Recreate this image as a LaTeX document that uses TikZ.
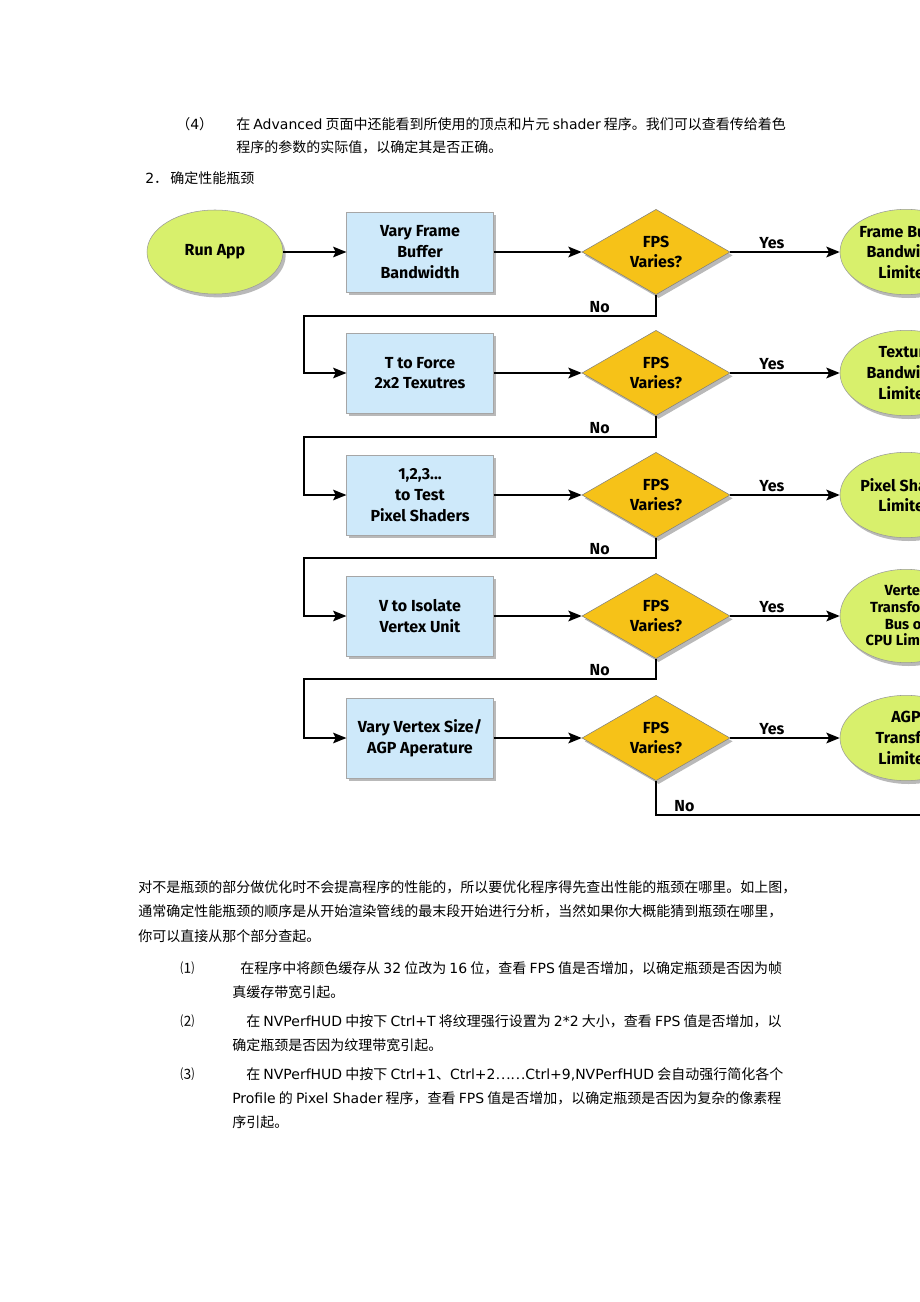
\documentclass[tikz,border=0pt]{standalone}
\usepackage{fontspec}
\setmainfont{DejaVu Sans}
\newfontfamily\cjk{Noto Sans CJK SC}
\newfontfamily\latin{DejaVu Sans}
\newfontfamily\flow{Fira Sans}
\usetikzlibrary{arrows.meta,positioning,shapes.geometric,shadows}
\newcommand{\en}[1]{{\latin #1}}
\definecolor{boxblue}{RGB}{206,233,250}
\definecolor{limegreen}{RGB}{216,240,108}
\definecolor{fpsgold}{RGB}{246,194,24}
\tikzset{
  body/.style={anchor=base west,inner sep=0pt,font=\cjk\fontsize{10.5pt}{12pt}\selectfont},
  chart/.style={font=\flow\bfseries\fontsize{12pt}{15.5pt}\selectfont,align=center},
  shade/.style={drop shadow={shadow xshift=2pt,shadow yshift=-2.5pt,fill=black!55,opacity=0.5}},
  start/.style={chart,ellipse,draw=black!40,fill=limegreen,shade,
    minimum width=102pt,minimum height=63pt,inner sep=0pt},
  stepbox/.style={chart,rectangle,draw=black!35,fill=boxblue,shade,
    minimum width=110pt,minimum height=60pt,inner sep=0pt},
  test/.style={chart,diamond,aspect=1.7,draw=black!50,fill=fpsgold,shade,
    minimum width=111pt,minimum height=64pt,inner sep=0pt},
  result/.style={chart,ellipse,draw=black!40,fill=limegreen,shade,
    minimum width=99pt,minimum height=64pt,inner sep=-20pt},
  line/.style={line width=1.3pt},
  arrow/.style={line,-{Stealth[length=10pt,width=8pt,inset=2pt]}},
  lbl/.style={chart,inner sep=2pt}
}

\begin{document}
\begin{tikzpicture}[x=0.75pt,y=-0.75pt]
\useasboundingbox (0,0) rectangle (920,1302);
\clip (0,0) rectangle (920,1302);

% text above the chart
\node[body] (h4) at (176,130) {（\en{4}）};
\node[body] (t1) at (236,130) {在 \en{Advanced} 页面中还能看到所使用的顶点和片元 \en{shader} 程序。我们可以查看传给着色};
\node[body] (t2) at (236,153) {程序的参数的实际值，以确定其是否正确。};
\node[body] (s2) at (145,183) {\en{2}．\,确定性能瓶颈};

% chart
\node[start] (run) at (215,252) {Run App};
\node[stepbox] (b1) at (420,252) {Vary Frame\\Buffer\\Bandwidth};
\node[stepbox] (b2) at (420,373) {T to Force\\2x2 Texutres};
\node[stepbox] (b3) at (420,495) {1,2,3...\\to Test\\Pixel Shaders};
\node[stepbox] (b4) at (420,616) {V to Isolate\\Vertex Unit};
\node[stepbox] (b5) at (420,738) {Vary Vertex Size/\\AGP Aperature};

\node[test] (d1) at (656,252) {FPS\\Varies?};
\node[test] (d2) at (656,373) {FPS\\Varies?};
\node[test] (d3) at (656,495) {FPS\\Varies?};
\node[test] (d4) at (656,616) {FPS\\Varies?};
\node[test] (d5) at (656,738) {FPS\\Varies?};

\node[result] (r1) at (906,252) {Frame Buffer\\Bandwidth\\Limited};
\node[result] (r2) at (906,373) {Texture\\Bandwidth\\Limited};
\node[result] (r3) at (906,495) {Pixel Shader\\Limited};
\node[result,minimum height=70pt,font=\flow\bfseries\fontsize{11pt}{12.5pt}\selectfont] (r4) at (906,616) {Vertex\\Transform,\\Bus or\\CPU Limited};
\node[result] (r5) at (906,738) {AGP\\Transfer\\Limited};

\coordinate (c1) at (304,316);
\coordinate (c2) at (304,437);
\coordinate (c3) at (304,558);
\coordinate (c4) at (304,679);
\coordinate (c5) at (940,815);

\draw[arrow] (run) -- (b1);
\draw[arrow] (b1) -- (d1);
\draw[arrow] (b2) -- (d2);
\draw[arrow] (b3) -- (d3);
\draw[arrow] (b4) -- (d4);
\draw[arrow] (b5) -- (d5);

\draw[arrow] (d1) -- node[lbl,above,pos=0.38] (y1) {Yes} (r1);
\draw[arrow] (d2) -- node[lbl,above,pos=0.38] (y2) {Yes} (r2);
\draw[arrow] (d3) -- node[lbl,above,pos=0.38] (y3) {Yes} (r3);
\draw[arrow] (d4) -- node[lbl,above,pos=0.38] (y4) {Yes} (r4);
\draw[arrow] (d5) -- node[lbl,above,pos=0.38] (y5) {Yes} (r5);

\draw[arrow] (d1.south) |- node[lbl,above,pos=0.58] (n1) {No} (c1) |- (b2);
\draw[arrow] (d2.south) |- node[lbl,above,pos=0.58] (n2) {No} (c2) |- (b3);
\draw[arrow] (d3.south) |- node[lbl,above,pos=0.58] (n3) {No} (c3) |- (b4);
\draw[arrow] (d4.south) |- node[lbl,above,pos=0.58] (n4) {No} (c4) |- (b5);
\draw[line] (d5.south) |- node[lbl,above,pos=0.55] (n5) {No} (c5);

% text below the chart
\node[body] (p1) at (138,892) {对不是瓶颈的部分做优化时不会提高程序的性能的，所以要优化程序得先查出性能的瓶颈在哪里。如上图，};
\node[body] (p2) at (138,916) {通常确定性能瓶颈的顺序是从开始渲染管线的最末段开始进行分析，当然如果你大概能猜到瓶颈在哪里，};
\node[body] (p3) at (138,941) {你可以直接从那个部分查起。};

\node[body] (i1) at (180,973) {⑴};
\node[body] (i1a) at (240,973) {在程序中将颜色缓存从 \en{32} 位改为 \en{16} 位，查看 \en{FPS} 值是否增加，以确定瓶颈是否因为帧};
\node[body] (i1b) at (232,997) {真缓存带宽引起。};
\node[body] (i2) at (180,1026) {⑵};
\node[body] (i2a) at (246,1026) {在 \en{NVPerfHUD} 中按下 \en{Ctrl+T} 将纹理强行设置为 \en{2*2} 大小，查看 \en{FPS} 值是否增加，以};
\node[body] (i2b) at (232,1050) {确定瓶颈是否因为纹理带宽引起。};
\node[body] (i3) at (180,1079) {⑶};
\node[body] (i3a) at (246,1079) {在 \en{NVPerfHUD} 中按下 \en{Ctrl+1}、\en{Ctrl+2}……\en{Ctrl+9,NVPerfHUD} 会自动强行简化各个};
\node[body] (i3b) at (232,1103) {\en{Profile} 的 \en{Pixel Shader} 程序，查看 \en{FPS} 值是否增加，以确定瓶颈是否因为复杂的像素程};
\node[body] (i3c) at (232,1127) {序引起。};
\end{tikzpicture}
\end{document}
